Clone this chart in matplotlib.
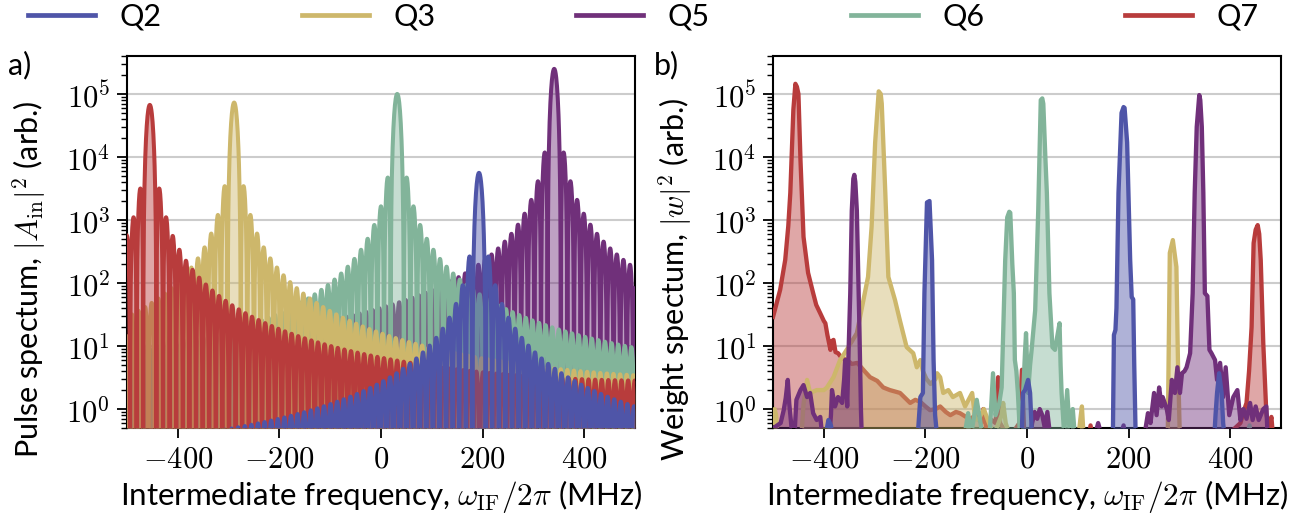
import numpy as np
import matplotlib
matplotlib.use("Agg")
import matplotlib.pyplot as plt
from matplotlib.ticker import FuncFormatter, LogLocator, NullFormatter

plt.rcParams['font.family'] = ['Lato', 'DejaVu Sans']
plt.rcParams['mathtext.fontset'] = 'cm'

# ---------------- data ----------------
qubits = ["Q2", "Q3", "Q5", "Q6", "Q7"]
colors = {"Q2": "#4f55a8", "Q3": "#cdb76b", "Q5": "#70307a", "Q6": "#82b49a", "Q7": "#b83c3c"}

# panel a: square pulse per qubit (centre frequency, peak height)
pulse_center = {"Q2": 193, "Q3": -289, "Q5": 341, "Q6": 32, "Q7": -455}
pulse_peak = {"Q2": 5.6e3, "Q3": 7.3e4, "Q5": 2.5e5, "Q6": 1.0e5, "Q7": 6.7e4}
pulse_samples = 154        # pulse length in samples
sample_rate = 2000.0       # MHz

# panel b: weight spectra, digitised (MHz, |w|^2)
w_freq_q2 = [-500, -400, -395, -391, -386, -381, -300, -216, -210, -205, -202, -197, -192, -187,
             -184, -181, -176, -100, -14, -10, -8, -4, 2, 6, 9, 12, 100, 163, 169, 171, 174, 176,
             180, 186, 190, 192, 197, 203, 206, 209, 211, 214, 300, 368, 371, 374, 378, 383, 386, 390, 500]
w_val_q2 = [0.3, 0.3, 0.45, 0.67, 0.55, 0.3, 0.3, 0.3, 1.55, 1.8, 69, 1900, 2000, 230,
            6, 0.8, 0.3, 0.3, 0.3, 0.5, 1.8, 2.0, 2.9, 1.8, 0.5, 0.3, 0.3, 0.3, 0.4, 15, 18, 40,
            2.7e3, 5e4, 6.2e4, 6e4, 1.7e4, 230, 60, 55, 5, 0.3, 0.3, 0.3, 0.8, 1.8, 3.7, 1.8, 0.6, 0.3, 0.3]

w_freq_q3 = [-500, -497, -494, -490, -445, -440, -433, -427, -414, -400, -394, -381, -368, -355, -335,
             -322, -313, -306, -299, -292, -288, -286, -279, -273, -260, -250, -237, -224, -217,
             -210, -205, -198, -190, -180, -177, -171, -165, -155, -146, -132, -122, -108, -102,
             -95, -85, -75, -65, -50, -47, -42, -30, 100, 105, 108, 112, 270, 277, 281, 287, 294,
             297, 301, 500]
w_val_q3 = [0.6, 1.0, 0.8, 0.3, 0.3, 1.2, 2.9, 1.8, 2.0, 2.0, 2.2, 3.2, 6, 8.7, 16,
            54, 125, 780, 1.7e4, 1.1e5, 1.0e5, 7e4, 2.7e3, 125, 54, 25, 9.6, 7.7, 4.6,
            6, 4, 3, 2.5, 3, 3.7, 3.2, 1.8, 2.0, 1.55, 1.8, 1.1, 1.8, 0.68,
            0.7, 1.0, 0.6, 0.4, 0.8, 1.25, 0.6, 0.3, 0.3, 0.7, 1.1, 0.3, 0.3, 0.4, 300, 480, 180,
            6, 0.3, 0.3]

w_freq_q5 = [-500, -496, -485, -479, -475, -471, -468, -465, -461, -457, -454, -446, -440, -433, -427,
             -421, -414, -407, -402, -390, -386, -384, -378, -372, -364, -360, -358, -354, -351,
             -348, -345, -342, -340, -338, -335, -330, -327, -325, 5, 10, 15, 20, 25, 30, 35, 40,
             45, 50, 130, 140, 150, 180, 190, 195, 229, 238, 243, 250, 255, 260, 265, 267, 275,
             279, 285, 291, 296, 301, 305, 310, 314, 321, 326, 330, 334, 339, 341, 344, 347, 350,
             355, 359, 363, 370, 374, 380, 386, 391, 398, 406, 414, 420, 426, 432, 439, 444, 450,
             456, 465, 471, 474, 500]
w_val_q5 = [0.3, 0.52, 0.6, 0.96, 1.5, 2.9, 1.2, 0.67, 0.3, 0.5, 1.4, 2.0, 2.4, 1.55, 1.8,
            0.86, 0.67, 0.75, 0.3, 0.3, 0.8, 2.0, 1.1, 1.55, 1.25, 3.0, 6.0, 1.1, 10,
            69, 1.4e3, 4.5e3, 5.2e3, 4e3, 1.4e3, 20, 1.0, 0.3, 0.3, 0.6, 0.9, 0.7, 1.0, 0.8, 0.5, 0.9,
            0.4, 0.3, 0.3, 0.6, 0.3, 0.3, 0.55, 0.3, 0.3, 0.86, 0.6, 1.8, 0.8, 2.2, 1.1, 1.55, 1.0,
            0.67, 2.9, 1.8, 4.6, 1.8, 3.7, 4.0, 4.6, 7.7, 69, 2.7e3, 3e4, 9.6e4, 8e4, 3e4, 2.7e3, 69,
            62, 8.7, 7.7, 6.0, 2.9, 5.4, 1.55, 4.6, 0.8, 1.55, 2.0, 0.67, 1.0, 0.7, 1.25, 0.67, 1.1,
            0.67, 1.0, 1.1, 0.3, 0.3]

w_freq_q6 = [-500, -125, -116, -110, -99, -90, -80, -73, -67, -62, -55, -50, -43, -39, -35, -33,
             -29, -26, -24, -21, -18, -14, -8, -4, -2, 2, 6, 9, 16, 22, 27, 30, 32, 36, 39, 44, 50,
             55, 60, 64, 66, 68, 73, 79, 84, 90, 95, 430, 438, 442, 450, 500]
w_val_q6 = [0.3, 0.3, 0.86, 0.4, 1.4, 0.5, 0.3, 0.5, 3.7, 0.8, 1.2, 2.2, 230, 1.1e3, 1.35e3, 1.3e3,
            200, 69, 6, 4, 1.8, 0.4, 1.5, 8, 16, 1.8, 5, 8.7, 37, 1.4e3, 8e4, 8.5e4, 7e4, 1e4, 2.7e3, 69, 9.6,
            8.7, 15, 23, 5, 1.8, 0.4, 2.0, 0.4, 1.0, 0.3, 0.3, 0.55, 0.3, 0.3, 0.3]

w_freq_q7 = [-500, -486, -476, -470, -466, -460, -456, -453, -450, -446, -440, -431, -421, -415, -407,
             -400, -397, -393, -387, -384, -381, -377, -372, -365, -354, -345, -334, -320, -309,
             -295, -283, -270, -256, -250, -240, -230, -220, -210, -200, -191, -180, -171, -160,
             -151, -140, -132, -120, -112, -100, -90, -86, -80, -73, -62, -57, -53, -47, -30, -15,
             -10, -6, 0, 120, 125, 130, 380, 420, 426, 432, 437, 442, 446, 450, 454, 457, 460, 465,
             471, 476, 481, 485, 500]
w_val_q7 = [29, 78, 233, 800, 2700, 5.6e4, 1.45e5, 1.3e5, 1e5, 9e3, 540, 145, 69, 45, 33,
            25, 23, 15, 8.7, 12, 12.5, 8, 7.7, 6.5, 6.0, 5.2, 5.4, 4.0, 3.2,
            2.8, 2.2, 2.0, 1.86, 1.8, 1.5, 1.25, 1.4, 1.3, 1.1, 0.96, 1.0, 1.1, 0.9,
            0.8, 0.9, 0.86, 0.75, 0.7, 0.8, 0.6, 1.0, 0.5, 0.7, 0.6, 3.2, 0.6, 0.5, 0.4, 0.6,
            4.2, 0.5, 0.3, 0.3, 0.55, 0.3, 0.3, 0.6, 0.9, 1.25, 4, 20, 430, 700, 830, 600, 230, 11,
            0.86, 0.5, 0.75, 0.3, 0.3]

weights = {
    "Q2": (w_freq_q2, w_val_q2),
    "Q3": (w_freq_q3, w_val_q3),
    "Q5": (w_freq_q5, w_val_q5),
    "Q6": (w_freq_q6, w_val_q6),
    "Q7": (w_freq_q7, w_val_q7),
}

order_a = ["Q5", "Q6", "Q3", "Q7", "Q2"]
order_b = ["Q7", "Q3", "Q6", "Q5", "Q2"]

FS_TICK = 22
FS_LAB = 22
LW = 2.9
ALPHA = 0.45
FLOOR = 1e-3


def pulse_spectrum(f, f0, peak):
    # |A(f)|^2 of a sampled square pulse (Dirichlet kernel), normalised to its peak
    x = np.pi * (f - f0) / sample_rate
    num = np.sin(pulse_samples * x)
    den = pulse_samples * np.sin(x)
    with np.errstate(invalid="ignore", divide="ignore"):
        r = np.where(np.abs(den) < 1e-12, 1.0, num / den)
    return peak * r ** 2


def style_axis(ax, ylabel):
    ax.set_yscale("log")
    ax.set_xlim(-500, 500)
    ax.set_ylim(0.5, 4e5)
    ax.set_xticks([-400, -200, 0, 200, 400])
    ax.xaxis.set_major_formatter(FuncFormatter(lambda v, p: f"${v:.0f}$"))
    ax.yaxis.set_major_locator(LogLocator(base=10, numticks=12))
    ax.yaxis.set_minor_locator(LogLocator(base=10, subs=np.arange(2, 10), numticks=12))
    ax.yaxis.set_minor_formatter(NullFormatter())
    ax.yaxis.set_major_formatter(FuncFormatter(lambda v, p: f"$10^{{{int(round(np.log10(v)))}}}$"))
    ax.tick_params(axis="both", which="major", direction="out", length=7, width=1.3,
                   labelsize=FS_TICK, pad=5)
    ax.tick_params(axis="y", which="minor", direction="out", length=4, width=1.0)
    ax.grid(True, axis="y", which="major", color="#cccccc", lw=1.5)
    ax.set_axisbelow("line")
    for s in ax.spines.values():
        s.set_linewidth(1.5)
    ax.set_xlabel(r"Intermediate frequency, $\omega_\mathrm{IF}/2\pi$ (MHz)", fontsize=FS_LAB + 0.5,
                  labelpad=4)
    ax.set_ylabel(ylabel, fontsize=FS_LAB)
    ax.yaxis.set_label_coords(-0.156, 0.40)


fig = plt.figure(figsize=(12.94, 5.23), dpi=100)
ax_a = fig.add_axes([0.0981, 0.1816, 0.3926, 0.7113])
ax_b = fig.add_axes([0.5974, 0.1816, 0.3926, 0.7113])

freq = np.arange(-500, 500.01, 0.5)
for k, q in enumerate(order_a):
    spec = np.clip(pulse_spectrum(freq, pulse_center[q], pulse_peak[q]), FLOOR, None)
    ax_a.fill_between(freq, FLOOR, spec, color=colors[q], alpha=ALPHA, lw=0, zorder=2 + 2 * k)
    ax_a.plot(freq, spec, color=colors[q], lw=LW, zorder=3 + 2 * k)

for k, q in enumerate(order_b):
    wf, wv = weights[q]
    ax_b.fill_between(wf, FLOOR, wv, color=colors[q], alpha=ALPHA, lw=0, zorder=2 + 2 * k)
    ax_b.plot(wf, wv, color=colors[q], lw=LW + 0.2, zorder=3 + 2 * k)

style_axis(ax_a, r"Pulse spectum, $|A_\mathrm{in}|^2$ (arb.)")
style_axis(ax_b, r"Weight spectum, $|w|^2$ (arb.)")

fig.text(0.0155, 0.876, "a)", fontsize=22, ha="center", va="center")
fig.text(0.5147, 0.876, "b)", fontsize=22, ha="center", va="center")

handles = [plt.Line2D([], [], color=colors[q], lw=3.4) for q in qubits]
fig.legend(handles, qubits, loc="center", bbox_to_anchor=(0.497, 0.968), ncol=5, frameon=False,
           fontsize=22, handlelength=2.2, handletextpad=0.8, columnspacing=4.6)

fig.savefig("out.png", dpi=100)
